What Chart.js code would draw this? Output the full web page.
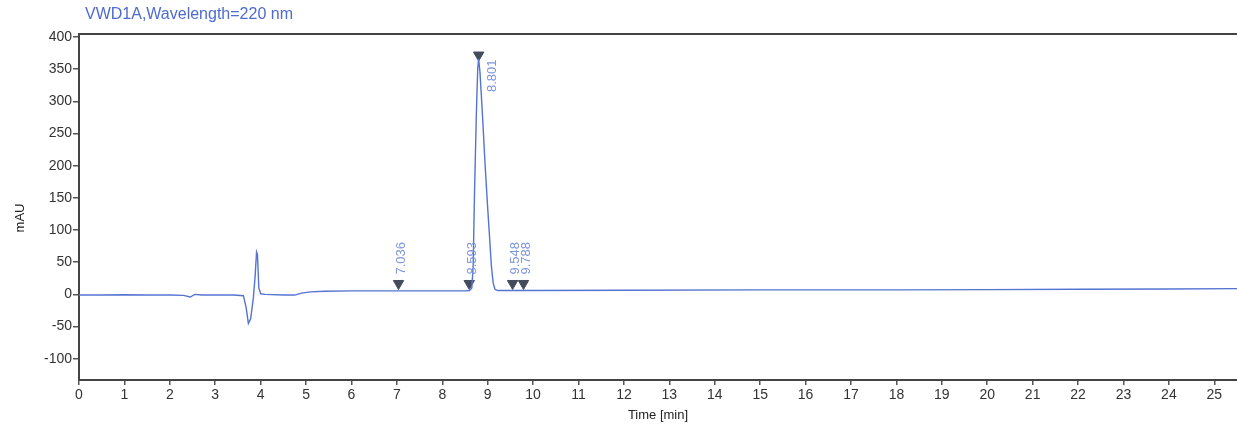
<!DOCTYPE html>
<html>
<head>
<meta charset="utf-8">
<script src="https://cdn.jsdelivr.net/npm/chart.js@4"></script>
<style>
    html, body { margin: 0; padding: 0; background: #fff; }
</style>
</head>
<body>
<canvas id="chromChart" width="1237" height="427"></canvas>
<script>
// signal trace (time in min, absorbance in mAU)
const times = [0, 0.5, 1.0, 1.5, 2.0, 2.3, 2.45, 2.55, 2.7, 3.0, 3.4, 3.62, 3.68, 3.73, 3.78, 3.84, 3.88, 3.91, 3.93, 3.96, 4.0, 4.1, 4.5, 4.75, 4.9, 5.1, 5.4, 6, 7, 8, 8.5, 8.6, 8.65, 8.68, 8.71, 8.75, 8.78, 8.8, 8.83, 8.88, 8.94, 8.99, 9.04, 9.08, 9.12, 9.16, 9.22, 9.5, 10, 12, 15, 18, 20, 22, 24, 25.5];
const signal = [-1, -1, -0.5, -1, -1, -1.5, -4, 0, -1, -1, -1, -2, -20, -45, -38, -5, 30, 66, 62, 10, 1, 0, -1, -1, 2, 4, 5, 5.5, 5.5, 5.5, 5.5, 6, 10, 45, 160, 280, 350, 366, 345, 285, 205, 145, 90, 45, 18, 8, 6, 6, 6, 6.5, 7, 7, 7.5, 8, 8.5, 9];

// integration marks
const peakTimes = [7.036, 8.593, 8.801, 9.548, 9.788];
const peakMarks = [17, 17, 372, 17, 17];
const peakLabels = ["7.036", "8.593", "8.801", "9.548", "9.788"];

// axis ticks
const xTicks = [0, 1, 2, 3, 4, 5, 6, 7, 8, 9, 10, 11, 12, 13, 14, 15, 16, 17, 18, 19, 20, 21, 22, 23, 24, 25];
const yTicks = [-100, -50, 0, 50, 100, 150, 200, 250, 300, 350, 400];

const titleText = "VWD1A,Wavelength=220 nm";
const fontFamily = "'Liberation Sans', Arial, sans-serif";

// =========================
// decorations
// =========================
const chromDecor = {
    id: "chromDecor",
    afterDatasetsDraw(chart) {
        const { ctx, chartArea } = chart;
        ctx.save();

        // top frame line
        ctx.strokeStyle = "#444";
        ctx.lineWidth = 2;
        ctx.beginPath();
        ctx.moveTo(chartArea.left, chartArea.top);
        ctx.lineTo(chartArea.right, chartArea.top);
        ctx.stroke();

        // signal title
        ctx.fillStyle = "#4d6bd0";
        ctx.font = "16px " + fontFamily;
        ctx.textAlign = "left";
        ctx.textBaseline = "middle";
        ctx.fillText(titleText, 85, 15);

        // axis titles
        ctx.fillStyle = "#222";
        ctx.font = "13px " + fontFamily;
        ctx.textAlign = "center";
        ctx.fillText("Time [min]", (chartArea.left + chartArea.right) / 2, 415);

        ctx.save();
        ctx.translate(20, 218);
        ctx.rotate(-Math.PI / 2);
        ctx.fillText("mAU", 0, 0);
        ctx.restore();

        // peak labels, rotated
        const marks = chart.getDatasetMeta(1).data;
        ctx.fillStyle = "#7d95dc";
        ctx.font = "13px " + fontFamily;
        ctx.textAlign = "left";
        marks.forEach((pt, i) => {
            let x = pt.x + 3;
            let y = pt.y - 9;
            if (pt.y < chartArea.top + 60) {
                x = pt.x + 14;
                y = pt.y + 37;
            }
            ctx.save();
            ctx.translate(x, y);
            ctx.rotate(-Math.PI / 2);
            ctx.fillText(peakLabels[i], 0, 0);
            ctx.restore();
        });

        ctx.restore();
    },
};

const ctx = document.getElementById("chromChart");

new Chart(ctx, {
    type: "line",
    data: {
        datasets: [
            {
                label: "VWD1A",
                data: times.map((t, i) => ({ x: t, y: signal[i] })),
                borderColor: "#5573d2",
                borderWidth: 1.4,
                pointRadius: 0,
                tension: 0,
                fill: false,
            },
            {
                label: "peaks",
                data: peakTimes.map((t, i) => ({ x: t, y: peakMarks[i] })),
                showLine: false,
                pointStyle: "triangle",
                rotation: 180,
                pointRadius: 6,
                backgroundColor: "#434b5c",
                borderColor: "#434b5c",
                borderWidth: 1,
            },
        ],
    },
    options: {
        responsive: false,
        animation: false,
        devicePixelRatio: 1,
        layout: {
            autoPadding: false,
            padding: { top: 34, right: 0, left: 0, bottom: 0 },
        },
        plugins: {
            legend: { display: false },
            tooltip: { enabled: false },
        },
        scales: {
            x: {
                type: "linear",
                min: 0,
                max: 25.5,
                afterBuildTicks: (scale) => {
                    scale.ticks = xTicks.map((v) => ({ value: v }));
                },
                afterFit: (scale) => {
                    scale.height = 47;
                    scale.paddingLeft = 0;
                    scale.paddingRight = 0;
                },
                grid: {
                    drawOnChartArea: false,
                    drawTicks: true,
                    tickLength: 5,
                    color: "#555",
                    lineWidth: 1.5,
                },
                border: { display: true, color: "#444", width: 2 },
                ticks: {
                    color: "#333",
                    font: { family: fontFamily, size: 14 },
                    padding: 2,
                    maxRotation: 0,
                    callback: (v) => String(v),
                },
            },
            y: {
                type: "linear",
                min: -133,
                max: 404.7,
                afterBuildTicks: (scale) => {
                    scale.ticks = yTicks.map((v) => ({ value: v }));
                },
                afterFit: (scale) => {
                    scale.width = 79;
                    scale.paddingTop = 0;
                    scale.paddingBottom = 0;
                },
                grid: {
                    drawOnChartArea: false,
                    drawTicks: true,
                    tickLength: 6,
                    color: "#555",
                    lineWidth: 1.5,
                },
                border: { display: true, color: "#444", width: 2 },
                ticks: {
                    color: "#333",
                    font: { family: fontFamily, size: 14 },
                    padding: 1,
                    callback: (v) => String(v),
                },
            },
        },
    },
    plugins: [chromDecor],
});
</script>
</body>
</html>
